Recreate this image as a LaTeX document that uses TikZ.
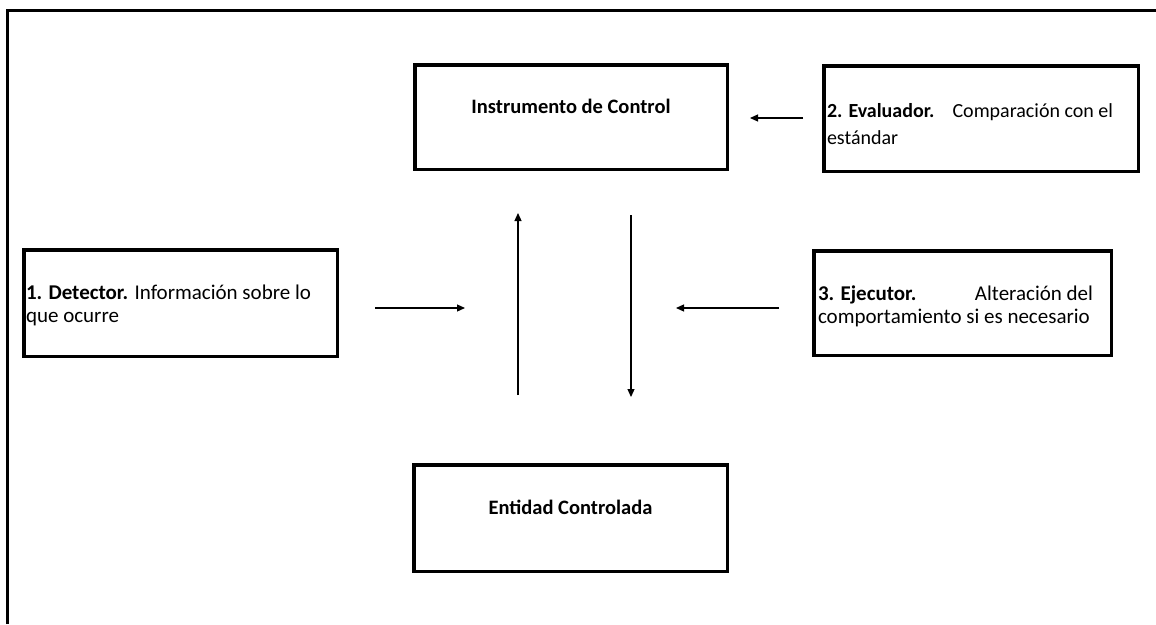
\documentclass[tikz,border=0pt]{standalone}
\usepackage{fontspec}
\setmainfont{Carlito}
\usetikzlibrary{arrows.meta}
% two-line left-aligned label, first baseline on the node's reference line;
% the optional argument adds space between the two lines
\newcommand{\twolines}[4][0pt]{\makebox[#2][l]{\begin{tabular}[t]{@{}l@{}}#3\\[#1]#4\end{tabular}}}
\begin{document}
\begin{tikzpicture}[x=1pt,y=-1pt,
  box/.style={draw=black, line width=3.5pt, inner sep=0pt, outer sep=0pt},
  titlebox/.style={box, font=\fontsize{20.5}{21}\selectfont\bfseries,
    text height=14pt, text depth=22pt},
  descbox/.style={box, font=\fontsize{21}{23}\selectfont},
  arr/.style={line width=1.2pt, -{Triangle[length=8pt,width=7pt]}}]
\useasboundingbox (0,0) rectangle (1156,624);

% open frame: left and top edges only
\draw[line width=3pt, line join=miter] (7.5,624) -- (7.5,10) -- (1156,10);

% boxes
\node[titlebox, minimum width=312.5pt, minimum height=104.5pt] (ic) at (571,117) {Instrumento de Control};
\node[titlebox, minimum width=313.5pt, minimum height=106.5pt] (ent) at (570.5,518) {Entidad Controlada};
\node[descbox, font=\fontsize{20}{23}\selectfont, text height=14pt, text depth=16pt,
      minimum width=314.5pt, minimum height=105.5pt] (ev) at (981,118.5)
  {\twolines[4pt]{308pt}{\makebox[286pt][l]{\textbf{2. Evaluador.}\hfill Comparación con el}}{estándar}};
\node[descbox, text height=10pt, text depth=18pt, minimum width=313.5pt, minimum height=106.5pt] (det) at (180.5,303)
  {\twolines{309pt}{\textbf{1. Detector.} Información sobre lo}{que ocurre}};
\node[descbox, text height=11pt, text depth=17pt, minimum width=297.5pt, minimum height=104.5pt] (ej) at (962.5,303)
  {\twolines{289pt}{\makebox[275pt][l]{\textbf{3. Ejecutor.}\hfill Alteración del}}{comportamiento si es necesario}};

% arrow end points
\coordinate (evA) at (803,118);
\coordinate (evB) at (750,118);
\coordinate (detA) at (375,308);
\coordinate (detB) at (465,308);
\coordinate (ejA) at (779,308);
\coordinate (ejB) at (676,308);
\coordinate (upA) at (518,395);
\coordinate (upB) at (518,213);
\coordinate (dnA) at (631,215);
\coordinate (dnB) at (631,397);

\draw[arr] (evA) -- (evB);
\draw[arr] (detA) -- (detB);
\draw[arr] (ejA) -- (ejB);
\draw[arr] (upA) -- (upB);
\draw[arr] (dnA) -- (dnB);
\end{tikzpicture}
\end{document}
